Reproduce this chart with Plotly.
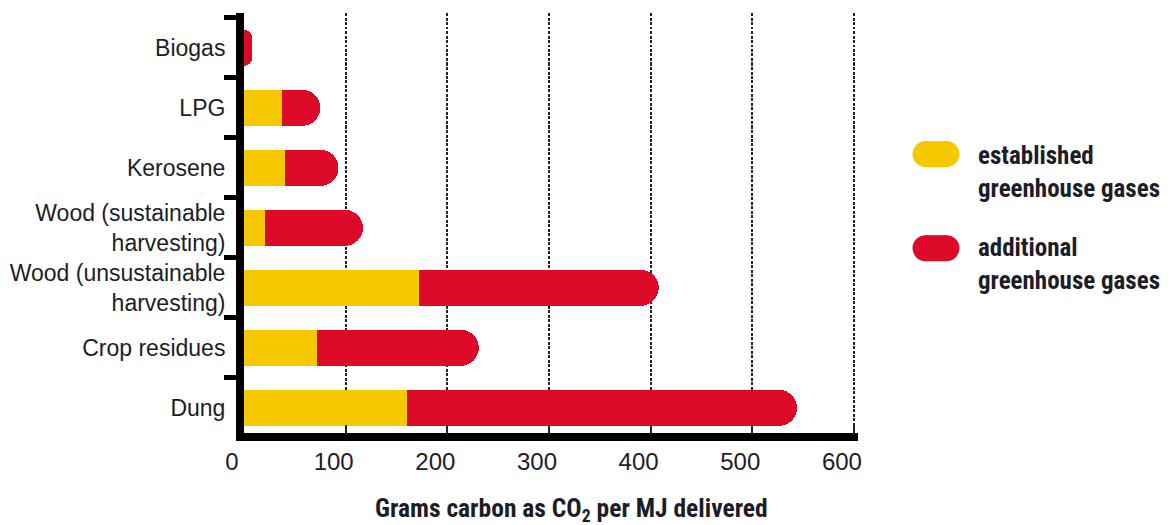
import plotly.graph_objects as go

categories = ["Biogas", "LPG", "Kerosene", "Wood (sustainable<br>harvesting)",
              "Wood (unsustainable<br>harvesting)", "Crop residues", "Dung"]
established = [0, 37, 40, 21, 172, 72, 160]
additional = [8, 38, 53, 96, 236, 159, 384]
series_names = ["established<br>greenhouse gases", "additional<br>greenhouse gases"]
series_colors = ["#F5C800", "#DC0A28"]
x_ticks = [0, 100, 200, 300, 400, 500, 600]
x_title = "Grams carbon as CO<sub>2</sub> per MJ delivered"

TEXT = "#1d1d28"
REG = "Liberation Sans, Arial, sans-serif"
NARROW_BOLD = "Liberation Sans Narrow, Roboto Condensed, DejaVu Sans Condensed, sans-serif"

fig = go.Figure()
for name, vals, col in zip(series_names, [established, additional], series_colors):
    fig.add_trace(go.Bar(
        y=categories, x=vals, orientation="h", name=name,
        marker=dict(color=col, line=dict(width=0)),
        width=0.6, showlegend=False,
        hovertemplate="%{y}: %{x}<extra>" + name.replace("<br>", " ") + "</extra>",
    ))

# custom legend: pill swatches + bold text
shapes = []
annotations = []
legend_y = [0.664, 0.440]
text_y = [0.621, 0.402]
for name, col, ly, ty in zip(series_names, series_colors, legend_y, text_y):
    for kind, x0, x1 in [("rect", -10.5, 10.5), ("circle", -23.5, 2.5), ("circle", -2.5, 23.5)]:
        shapes.append(dict(
            type=kind, xref="paper", yref="paper", xsizemode="pixel", ysizemode="pixel",
            xanchor=1.127, yanchor=ly, x0=x0, x1=x1, y0=-13, y1=13,
            fillcolor=col, line=dict(width=0), layer="above",
        ))
    annotations.append(dict(
        xref="paper", yref="paper", x=1.192, y=ty, text="<b>" + name + "</b>",
        showarrow=False, xanchor="left", yanchor="middle", align="left",
        font=dict(family=NARROW_BOLD, size=25, color=TEXT),
    ))

# x-axis title (placed as in the reference, slightly right of centre)
annotations.append(dict(
    xref="paper", yref="paper", x=0.533, y=-0.182, text="<b>" + x_title + "</b>",
    showarrow=False, xanchor="center", yanchor="middle",
    font=dict(family=NARROW_BOLD, size=25.5, color=TEXT),
))

fig.update_layout(
    width=1171, height=525,
    margin=dict(l=244, r=313, t=13, b=92),
    plot_bgcolor="white", paper_bgcolor="white",
    barmode="stack", barcornerradius="50%",
    annotations=annotations, shapes=shapes,
    xaxis=dict(
        range=[0, 604], tickvals=x_ticks, ticktext=[str(v) for v in x_ticks],
        automargin=False,
        showline=True, linewidth=8, linecolor="black",
        showgrid=True, gridcolor="#222222", gridwidth=1.5, griddash="3px,1.5px",
        zeroline=False,
        ticks="inside", ticklen=8, tickwidth=1.5, tickcolor="#222222",
        ticklabelshift=-12,
        tickfont=dict(family=REG, size=24, color=TEXT),
    ),
    yaxis=dict(
        type="category", categoryorder="array", categoryarray=categories,
        range=[6.42, -0.58], automargin=False,
        showline=True, linewidth=8, linecolor="black",
        showgrid=False, zeroline=False,
        ticks="outside", tickson="boundaries", ticklen=12, tickwidth=5, tickcolor="black",
        ticklabelstandoff=6,
        tickfont=dict(family=REG, size=23, color=TEXT),
    ),
)

fig.write_html("out.html", config={"displayModeBar": False},
               post_script="document.body.style.margin='0';")
